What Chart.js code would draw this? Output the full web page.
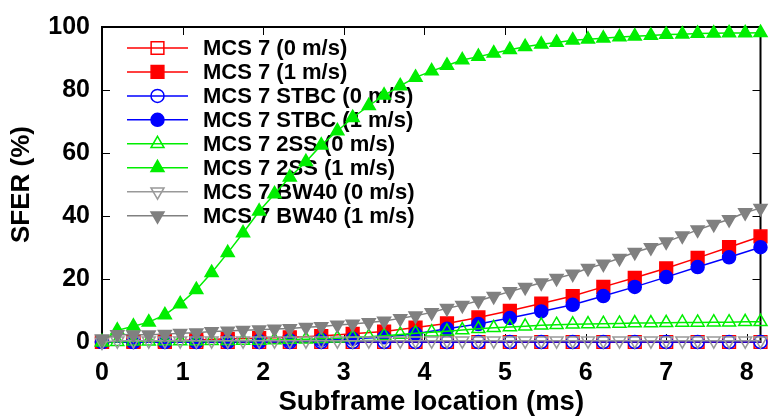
<!DOCTYPE html>
<html lang="en">
<head>
<meta charset="UTF-8">
<title>SFER vs subframe location</title>
<script src="https://cdn.jsdelivr.net/npm/chart.js@4.4.1/dist/chart.umd.min.js"></script>
<style>
    html, body { margin: 0; padding: 0; background: #fff; overflow: hidden; }
    .chart-box { width: 771px; height: 419px; }
</style>
</head>
<body>
<div class="chart-box"><canvas id="sferChart"></canvas></div>
<script>
// subframe positions (ms): fine grid for 2SS / BW40, coarse grid for MCS 7 / STBC
const xFine = [0, 0.19, 0.39, 0.58, 0.78, 0.97, 1.17, 1.36, 1.56, 1.75, 1.95, 2.14, 2.33, 2.53, 2.72,
    2.92, 3.11, 3.31, 3.5, 3.7, 3.89, 4.09, 4.28, 4.47, 4.67, 4.86, 5.06, 5.25, 5.45, 5.64, 5.84,
    6.03, 6.22, 6.42, 6.61, 6.81, 7.0, 7.2, 7.39, 7.59, 7.78, 7.98, 8.17];
const xCoarse = [0, 0.39, 0.78, 1.17, 1.56, 1.95, 2.33, 2.72, 3.11, 3.5, 3.89, 4.28, 4.67, 5.06,
    5.45, 5.84, 6.22, 6.61, 7.0, 7.39, 7.78, 8.17];

const xTicks = [0, 1, 2, 3, 4, 5, 6, 7, 8];
const yTicks = [0, 20, 40, 60, 80, 100];

// SFER (%)
const mcs7Still = [0, 0, 0, 0, 0, 0, 0, 0, 0, 0, 0, 0, 0, 0, 0, 0, 0, 0, 0, 0, 0, 0];
const mcs7Moving = [0, 0.2, 0.4, 0.6, 1.0, 1.2, 1.5, 1.9, 2.6, 3.3, 4.6, 5.9, 7.8, 9.9, 12.2, 14.6,
    17.5, 20.4, 23.4, 26.7, 30.1, 33.5];
const stbcStill = [0, 0, 0, 0, 0, 0, 0, 0, 0, 0, 0, 0, 0, 0, 0, 0, 0, 0, 0, 0, 0, 0];
const stbcMoving = [0, 0, 0.1, 0.1, 0.2, 0.3, 0.5, 0.7, 1.0, 1.5, 2.6, 4.2, 5.7, 7.6, 9.7, 11.8,
    14.6, 17.5, 20.6, 23.8, 26.9, 30.1];
const ss2Still = [0, 0.1, 0.2, 0.2, 0.3, 0.3, 0.3, 0.4, 0.4, 0.5, 0.5, 0.6, 0.8, 0.9, 1.0, 1.2, 1.5,
    1.7, 2.0, 2.4, 2.8, 3.1, 3.4, 3.8, 4.2, 4.5, 4.8, 5.0, 5.3, 5.5, 5.6, 5.7, 5.8, 5.9, 6.0, 6.0,
    6.1, 6.2, 6.2, 6.3, 6.3, 6.4, 6.4];
const ss2Moving = [0, 3.7, 5.0, 6.3, 8.6, 12.1, 16.6, 22.0, 28.3, 34.6, 41.5, 47.0, 52.3, 57.2, 62.5,
    67.0, 71.2, 75.0, 78.3, 81.3, 84.0, 86.0, 87.8, 89.5, 90.6, 91.7, 92.8, 93.7, 94.5, 95.1, 95.8,
    96.1, 96.4, 96.8, 97.1, 97.3, 97.6, 97.7, 97.9, 98.0, 98.1, 98.1, 98.2];
const bw40Still = [0, 0.4, 0.4, 0.4, 0.4, 0.4, 0.4, 0.4, 0.4, 0.4, 0.4, 0.4, 0.4, 0.4, 0.4, 0.4, 0.4,
    0.4, 0.4, 0.4, 0.4, 0.4, 0.4, 0.4, 0.4, 0.4, 0.4, 0.4, 0.4, 0.4, 0.4, 0.4, 0.4, 0.4, 0.4, 0.4,
    0.4, 0.4, 0.4, 0.4, 0.4, 0.4, 0.4];
const bw40Moving = [1.0, 2.4, 2.3, 2.3, 2.5, 2.8, 2.9, 3.3, 3.5, 3.7, 3.9, 4.1, 4.3, 4.7, 4.9, 5.4,
    5.7, 6.2, 6.7, 7.5, 8.3, 9.4, 10.7, 11.7, 13.1, 14.5, 16.0, 17.4, 18.8, 20.2, 21.6, 23.4, 24.8,
    26.6, 28.5, 30.0, 31.8, 33.7, 35.6, 37.4, 38.9, 41.1, 42.5];

const FONT = '"Liberation Sans", Arial, Helvetica, sans-serif';

function pts(xs, ys) {
    return xs.map((x, i) => ({ x: x, y: ys[i] }));
}

function series(label, xs, ys, color, style, radius, filled, rotation) {
    return {
        label: label,
        data: pts(xs, ys),
        borderColor: color,
        borderWidth: 1.5,
        pointStyle: style,
        pointRadius: radius,
        pointRotation: rotation || 0,
        pointBorderColor: color,
        pointBorderWidth: 1.5,
        pointBackgroundColor: filled ? color : 'rgba(0,0,0,0)',
        backgroundColor: filled ? color : 'rgba(0,0,0,0)',
        pointHoverRadius: radius,
        tension: 0,
        clip: false
    };
}

const datasets = [
    series('MCS 7 (0 m/s)', xCoarse, mcs7Still, '#ff0000', 'rect', 9, false),
    series('MCS 7 (1 m/s)', xCoarse, mcs7Moving, '#ff0000', 'rect', 9, true),
    series('MCS 7 STBC (0 m/s)', xCoarse, stbcStill, '#0000ff', 'circle', 6.5, false),
    series('MCS 7 STBC (1 m/s)', xCoarse, stbcMoving, '#0000ff', 'circle', 6.5, true),
    series('MCS 7 2SS (0 m/s)', xFine, ss2Still, '#00ee00', 'triangle', 7.5, false),
    series('MCS 7 2SS (1 m/s)', xFine, ss2Moving, '#00ee00', 'triangle', 7.5, true),
    series('MCS 7 BW40 (0 m/s)', xFine, bw40Still, '#999999', 'triangle', 7.5, false, 180),
    series('MCS 7 BW40 (1 m/s)', xFine, bw40Moving, '#808080', 'triangle', 7.5, true, 180)
];
// later series drawn on top, like the original plot
datasets.forEach((d, i) => { d.order = datasets.length - i; });

// black box round the plot with inward ticks on all four sides
const framePlugin = {
    id: 'frame',
    beforeDatasetsDraw(chart) {
        const a = chart.chartArea;
        const ctx = chart.ctx;
        const xs = chart.scales.x, ys = chart.scales.y;
        const len = 8;
        ctx.save();
        ctx.strokeStyle = '#000';
        ctx.lineWidth = 1;
        ctx.beginPath();
        xs.ticks.forEach(t => {
            const px = Math.round(xs.getPixelForValue(t.value)) + 0.5;
            ctx.moveTo(px, a.bottom); ctx.lineTo(px, a.bottom - len);
            ctx.moveTo(px, a.top); ctx.lineTo(px, a.top + len);
        });
        ys.ticks.forEach(t => {
            const py = Math.round(ys.getPixelForValue(t.value)) + 0.5;
            ctx.moveTo(a.left, py); ctx.lineTo(a.left + len, py);
            ctx.moveTo(a.right, py); ctx.lineTo(a.right - len, py);
        });
        ctx.stroke();
        ctx.lineWidth = 2;
        ctx.strokeRect(a.left, a.top, a.right - a.left, a.bottom - a.top);
        ctx.restore();
    }
};

// key inside the plot, top left: line sample, marker, label
const keyPlugin = {
    id: 'key',
    beforeDatasetsDraw(chart) {
        const a = chart.chartArea;
        const ctx = chart.ctx;
        ctx.save();
        ctx.font = 'bold 22px ' + FONT;
        ctx.textBaseline = 'middle';
        ctx.textAlign = 'left';
        chart.data.datasets.forEach((d, i) => {
            const y = a.top + 21 + i * 23.95;
            const x0 = a.left + 25, x1 = a.left + 86;
            ctx.strokeStyle = d.borderColor;
            ctx.lineWidth = d.borderWidth;
            ctx.beginPath();
            ctx.moveTo(x0, y); ctx.lineTo(x1, y);
            ctx.stroke();
            ctx.fillStyle = d.pointBackgroundColor;
            ctx.strokeStyle = d.pointBorderColor;
            ctx.lineWidth = d.pointBorderWidth;
            Chart.helpers.drawPoint(ctx, {
                pointStyle: d.pointStyle,
                radius: d.pointRadius,
                rotation: d.pointRotation,
                borderWidth: d.pointBorderWidth
            }, (x0 + x1) / 2, y);
            ctx.fillStyle = '#000';
            ctx.fillText(d.label, a.left + 101, y + 1);
        });
        ctx.restore();
    }
};

new Chart(document.getElementById('sferChart'), {
    type: 'line',
    data: { datasets: datasets },
    options: {
        responsive: true,
        maintainAspectRatio: false,
        animation: false,
        layout: { padding: { top: 24, right: 3, left: 0, bottom: 0 } },
        plugins: {
            legend: { display: false },
            tooltip: { enabled: false }
        },
        scales: {
            x: {
                type: 'linear',
                min: 0,
                max: 8.17,
                afterBuildTicks: s => { s.ticks = xTicks.map(v => ({ value: v })); },
                afterFit: s => { s.height = 77; },
                grid: { display: false, drawTicks: false },
                border: { display: false },
                ticks: {
                    color: '#000',
                    font: { family: FONT, size: 25, weight: 'bold' },
                    padding: 16,
                    maxRotation: 0,
                    autoSkip: false
                },
                title: {
                    display: true,
                    text: 'Subframe location (ms)',
                    color: '#000',
                    font: { family: FONT, size: 27.5, weight: 'bold' },
                    padding: { top: 0, bottom: 0 }
                }
            },
            y: {
                min: 0,
                max: 100,
                afterBuildTicks: s => { s.ticks = yTicks.map(v => ({ value: v })); },
                afterFit: s => { s.width = 102; },
                grid: { display: false, drawTicks: false },
                border: { display: false },
                ticks: {
                    color: '#000',
                    font: { family: FONT, size: 25, weight: 'bold' },
                    padding: 12
                },
                title: {
                    display: true,
                    text: 'SFER (%)',
                    color: '#000',
                    font: { family: FONT, size: 26, weight: 'bold' },
                    padding: { top: 6, bottom: 0 }
                }
            }
        }
    },
    plugins: [framePlugin, keyPlugin]
});
</script>
</body>
</html>
